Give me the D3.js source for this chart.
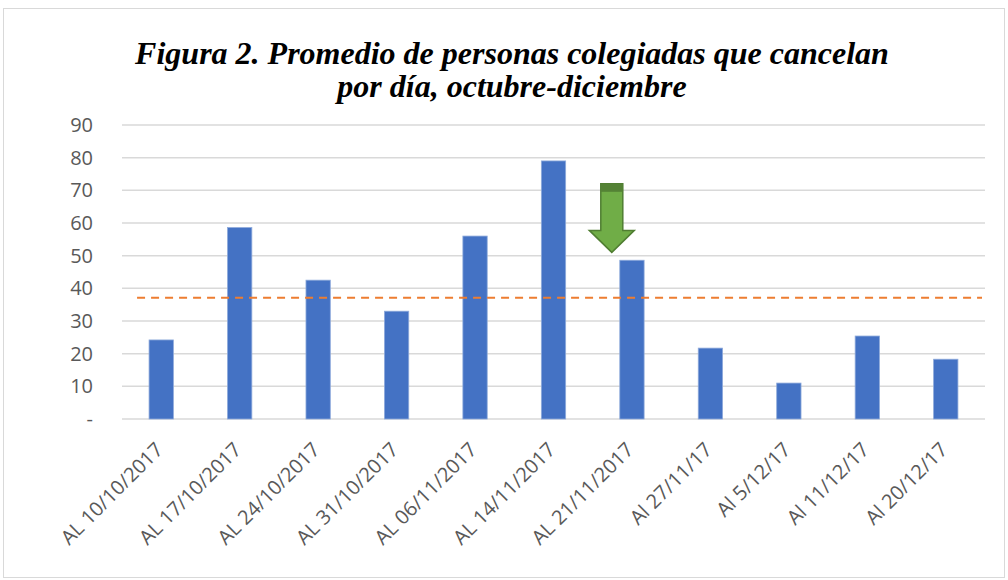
<!DOCTYPE html>
<html>
<head>
<meta charset="utf-8">
<script src="https://cdn.jsdelivr.net/npm/d3@7"></script>
<style>
  body { margin: 0; background: #fff; }
  svg { display: block; }
</style>
</head>
<body>
<div id="chart"></div>
<script>
// Data
const categories = [
  'AL 10/10/2017', 'AL 17/10/2017', 'AL 24/10/2017', 'AL 31/10/2017',
  'AL 06/11/2017', 'AL 14/11/2017', 'AL 21/11/2017', 'Al 27/11/17',
  'Al 5/12/17', 'Al 11/12/17', 'Al 20/12/17'
];
const values = [24.2, 58.6, 42.5, 33.0, 56.0, 79.0, 48.6, 21.7, 11.0, 25.4, 18.3];
const averageValue = 37.1;
const yTicks = [0, 10, 20, 30, 40, 50, 60, 70, 80, 90];
const titleLines = [
  'Figura 2. Promedio de personas colegiadas que cancelan',
  'por día, octubre-diciembre'
];
// arrow annotation: sits just left of the 7th category, from 72 down to 51
const arrowCategory = 'AL 21/11/2017';
const arrowRange = [72, 51];

const width = 1008, height = 580;
const margin = { top: 125, right: 23, bottom: 161, left: 122 };

const svg = d3.select('#chart').append('svg')
  .attr('width', width)
  .attr('height', height);

// outer frame
svg.append('rect')
  .attr('x', 3.5).attr('y', 8.5)
  .attr('width', width - 7).attr('height', height - 11)
  .attr('fill', '#fff')
  .attr('stroke', '#d9d9d9')
  .attr('stroke-width', 1);

const x = d3.scaleBand()
  .domain(categories)
  .range([margin.left, width - margin.right])
  .paddingInner(0.69)
  .paddingOuter(0.345);

const y = d3.scaleLinear()
  .domain([0, 90])
  .range([height - margin.bottom, margin.top]);

// gridlines
svg.append('g')
  .selectAll('line')
  .data(yTicks)
  .enter()
  .append('line')
  .attr('x1', margin.left)
  .attr('x2', width - margin.right)
  .attr('y1', d => y(d))
  .attr('y2', d => y(d))
  .attr('stroke', '#d9d9d9')
  .attr('stroke-width', 1.5);

// y axis labels
const yAxis = d3.axisLeft(y)
  .tickValues(yTicks)
  .tickSize(0)
  .tickPadding(29)
  .tickFormat(d => d === 0 ? '-' : d);

svg.append('g')
  .attr('transform', `translate(${margin.left},0)`)
  .call(yAxis)
  .call(g => g.select('.domain').remove())
  .selectAll('text')
  .attr('font-family', 'Open Sans, sans-serif')
  .attr('font-size', 20)
  .attr('fill', '#595959');

// bars
svg.append('g')
  .selectAll('rect')
  .data(values)
  .enter()
  .append('rect')
  .attr('x', (d, i) => x(categories[i]))
  .attr('y', d => y(d))
  .attr('width', x.bandwidth())
  .attr('height', d => y(0) - y(d))
  .attr('fill', '#4472c4')
  .attr('stroke', '#8eaadb')
  .attr('stroke-width', 0.8);

// average line
svg.append('line')
  .attr('x1', x(categories[0]) - 12)
  .attr('x2', width - margin.right - 3)
  .attr('y1', y(averageValue))
  .attr('y2', y(averageValue))
  .attr('stroke', '#ed7d31')
  .attr('stroke-width', 2)
  .attr('stroke-dasharray', '8,6');

// x axis labels, rotated
const xAxis = d3.axisBottom(x).tickSize(0).tickPadding(0);
svg.append('g')
  .attr('transform', `translate(0,${y(0)})`)
  .call(xAxis)
  .call(g => g.select('.domain').remove())
  .selectAll('text')
  .attr('font-family', 'Open Sans, sans-serif')
  .attr('font-size', 20)
  .attr('fill', '#595959')
  .attr('text-anchor', 'end')
  .attr('dy', 0)
  .attr('transform', 'translate(3,32) rotate(-45)');

// green down arrow
const ax = x(arrowCategory) - 8;
const aTop = y(arrowRange[0]);
const aTip = y(arrowRange[1]);
const shaftW = 22, headW = 45, headH = 22;
const arrowPath = [
  [ax - shaftW / 2, aTop],
  [ax + shaftW / 2, aTop],
  [ax + shaftW / 2, aTip - headH],
  [ax + headW / 2, aTip - headH],
  [ax, aTip],
  [ax - headW / 2, aTip - headH],
  [ax - shaftW / 2, aTip - headH]
];
svg.append('path')
  .attr('d', d3.line()(arrowPath) + 'Z')
  .attr('fill', '#70ad47')
  .attr('stroke', '#507e32')
  .attr('stroke-width', 1.5)
  .attr('stroke-linejoin', 'miter');
svg.append('rect')
  .attr('x', ax - shaftW / 2)
  .attr('y', aTop)
  .attr('width', shaftW)
  .attr('height', 8)
  .attr('fill', '#548235');

// title
svg.append('g')
  .selectAll('text')
  .data(titleLines)
  .enter()
  .append('text')
  .attr('x', 512)
  .attr('y', (d, i) => 64 + i * 33)
  .attr('text-anchor', 'middle')
  .attr('font-family', 'Liberation Serif, Times New Roman, serif')
  .attr('font-weight', 'bold')
  .attr('font-style', 'italic')
  .attr('font-size', 32)
  .attr('fill', '#000')
  .text(d => d);
</script>
</body>
</html>
